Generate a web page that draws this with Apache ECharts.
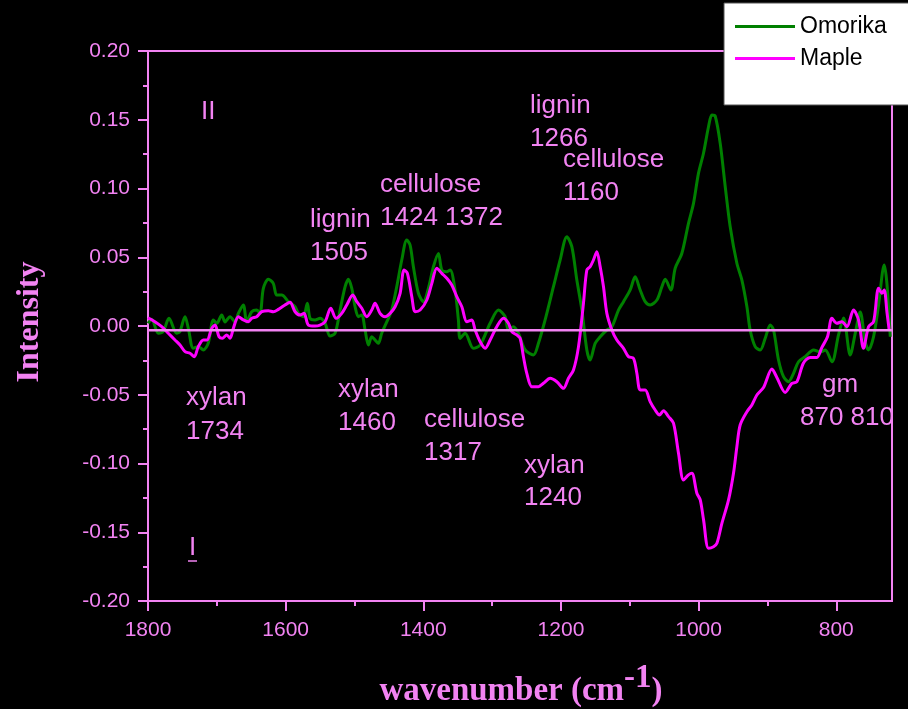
<!DOCTYPE html>
<html>
<head>
<meta charset="utf-8">
<script src="https://cdn.jsdelivr.net/npm/echarts@6/dist/echarts.min.js"></script>
<style>
  html, body { margin: 0; padding: 0; background: #000; }
  #chart { width: 908px; height: 709px; }
</style>
</head>
<body>
<div id="chart"></div>
<script>
// Difference spectra, wavenumber in cm-1 (descending) and intensity
const omorikaWavenumber = [
  1800, 1794.6, 1785, 1777.8, 1769.5, 1758.3, 1753.6, 1746.2, 1741.4, 1734.2,
  1727, 1719.6, 1712.5, 1705, 1700, 1692.9, 1688, 1680.8, 1673.5, 1668.7,
  1661.5, 1656.5, 1649.3, 1642, 1637.3, 1632.4, 1625.1, 1618, 1613, 1605.7,
  1596, 1586.3, 1581.5, 1574.3, 1568.5, 1564.5, 1557.3, 1550, 1542.7, 1535.5,
  1528.2, 1520.9, 1513.6, 1508.8, 1503.9, 1499.1, 1494.3, 1489.4, 1484.6, 1479.8,
  1474.9, 1470.1, 1465.3, 1460.4, 1453.1, 1445.9, 1438.6, 1431.3, 1424, 1419.2,
  1414.4, 1407.1, 1399.8, 1392.6, 1385.3, 1378, 1373.1, 1365.8, 1361, 1353.8,
  1349, 1346.5, 1339.3, 1327.2, 1317.4, 1302.9, 1290.8, 1281.1, 1276.3, 1269,
  1261.8, 1252, 1240, 1232.7, 1223, 1210.9, 1201.2, 1191.4, 1184.2, 1176.9,
  1169.6, 1162.4, 1157.6, 1150.3, 1143, 1133.3, 1126, 1116.4, 1109.1, 1099.4,
  1092.2, 1084.9, 1077.6, 1070.4, 1060.6, 1053.3, 1048.5, 1040.3, 1034, 1024.3,
  1014.7, 1007.4, 1000.2, 992.9, 985.6, 980.7, 975.9, 968.6, 961.3, 954.1,
  944.4, 937.1, 929.8, 925.1, 917.8, 910.5, 903.2, 895.9, 891.1, 883.9,
  876.6, 869.3, 862.1, 854.8, 845.1, 833, 823.3, 816, 806.3, 796.7,
  789.4, 779.7, 772.4, 765.2, 757.9, 753.1, 745.8, 738.5, 730.3, 726.4,
  721.5
];
const omorikaIntensity = [
  0.002, 0.005, -0.0053, -0.004, 0.0056, -0.0053, -0.004, 0.0068, -0.0017, -0.0162,
  -0.015, -0.0174, -0.0126, 0.0044, 0.002, 0.008, 0.003, 0.0068, 0.003, 0.0092,
  0.0153, 0.003, 0.0104, 0.0116, 0.0092, 0.0274, 0.034, 0.031, 0.0225, 0.0225,
  0.0177, 0.014, 0.0092, 0.0068, 0.0165, 0.0056, 0.0044, 0.0056, 0.002, -0.0073,
  -0.0053, 0.0116, 0.0286, 0.034, 0.0274, 0.014, 0.0068, 0.008, -0.0029, -0.0138,
  -0.0078, -0.0102, -0.0126, -0.0053, 0.003, 0.0116, 0.0286, 0.048, 0.0625, 0.0589,
  0.0431, 0.0238, 0.0177, 0.0274, 0.0431, 0.0528, 0.0407, 0.0395, 0.0407, 0.026,
  0.0044, -0.009, -0.0053, -0.0162, -0.0138, 0.002, 0.0116, 0.0068, -0.0029, -0.0005,
  -0.0053, -0.0174, -0.0211, -0.0126, 0.0044, 0.0286, 0.048, 0.0649, 0.0577, 0.0334,
  0.0116, -0.0174, -0.0247, -0.0126, -0.0078, -0.0029, -0.0005, 0.0116, 0.0177, 0.0262,
  0.0358, 0.0262, 0.0177, 0.0153, 0.0189, 0.0286, 0.034, 0.0262, 0.042, 0.0529,
  0.0747, 0.0892, 0.111, 0.1256, 0.1449, 0.1534, 0.1527, 0.1328, 0.1013, 0.0722,
  0.0456, 0.0334, 0.014, -0.0029, -0.015, -0.0174, -0.0089, 0.0007, -0.0029, -0.0247,
  -0.0369, -0.0405, -0.0344, -0.026, -0.0223, -0.0174, -0.019, -0.0174, -0.026, -0.0065,
  0.0058, -0.0211, -0.0053, 0.0102, -0.0116, -0.0174, -0.0078, 0.0153, 0.0444, 0.031,
  -0.0078
];

const mapleWavenumber = [
  1800, 1790, 1780.1, 1770.5, 1760.8, 1753.5, 1746.2, 1739, 1732.7, 1726.9,
  1719.6, 1714.3, 1707.4, 1702.6, 1696.8, 1692, 1685.6, 1680.8, 1676, 1668.7,
  1661.5, 1654.2, 1649.3, 1642, 1634.7, 1625.1, 1617.9, 1610.6, 1600.9, 1593.6,
  1586.3, 1579.1, 1573.3, 1567, 1557.3, 1550, 1542.7, 1534.5, 1526.7, 1518.5,
  1511.2, 1502.5, 1496.6, 1489.4, 1482.1, 1474.9, 1470.1, 1462.8, 1455.5, 1448.3,
  1441, 1433.7, 1427.9, 1423.1, 1416.7, 1411.9, 1404.6, 1394.9, 1387.6, 1380.4,
  1373.1, 1365.8, 1358.6, 1351.3, 1344, 1336.8, 1329.5, 1324.7, 1317.4, 1310.2,
  1302.9, 1293.2, 1283.6, 1276.3, 1271.4, 1264.1, 1259.3, 1254.5, 1249.6, 1242.3,
  1232.7, 1225.5, 1215.7, 1206, 1196.4, 1189.1, 1181.8, 1174.5, 1167.3, 1162.4,
  1157.6, 1152.8, 1147.9, 1143, 1138.2, 1133.3, 1126, 1118.8, 1109.1, 1101.9,
  1094.6, 1089.7, 1084.9, 1077.6, 1070.4, 1063.1, 1056.8, 1051, 1043.7, 1036.5,
  1029.2, 1021.9, 1014.7, 1009.7, 1002.5, 997.6, 992.8, 985.6, 978.3, 973.4,
  966.1, 956.5, 949.3, 944.4, 939.6, 929.8, 922.6, 915.3, 905.7, 893.5,
  886.3, 874.2, 864.5, 857.2, 847.6, 837.9, 828.2, 820.9, 812.7, 806.3,
  799.1, 791.8, 784.5, 774.9, 767.6, 760.4, 753.1, 745.8, 738.5, 733.6,
  730.3, 726.4, 723.1
];
const mapleIntensity = [
  0.006, 0.0031, -0.0005, -0.0053, -0.0102, -0.0138, -0.0187, -0.0198, -0.0223, -0.015,
  -0.0102, -0.0102, -0.0017, 0.0007, -0.0078, -0.0089, -0.0065, -0.0089, -0.0017, 0.0068,
  0.0044, 0.0031, 0.0056, 0.0068, 0.0104, 0.0111, 0.0104, 0.0121, 0.0153, 0.0172,
  0.0104, 0.008, 0.0092, 0.0007, 0, 0.0007, 0.0031, 0.0129, 0.0056, 0.0092,
  0.0153, 0.0225, 0.0177, 0.0129, 0.0068, 0.0116, 0.0165, 0.0092, 0.0068, 0.0092,
  0.014, 0.0238, 0.0407, 0.0383, 0.0213, 0.0104, 0.0116, 0.0189, 0.031, 0.042,
  0.0383, 0.0347, 0.0298, 0.0213, 0.014, 0.0031, 0.0044, -0.0029, -0.0114, -0.0162,
  -0.0102, -0.0005, 0.0056, 0.002, -0.0041, -0.0065, -0.0089, -0.0223, -0.0344, -0.0441,
  -0.0441, -0.0417, -0.038, -0.0405, -0.0453, -0.038, -0.032, -0.015, 0.0165, 0.0407,
  0.0431, 0.048, 0.054, 0.0431, 0.0286, 0.0092, -0.0029, -0.0102, -0.0162, -0.0223,
  -0.0235, -0.0344, -0.0465, -0.0465, -0.055, -0.0611, -0.0647, -0.0616, -0.0659, -0.0707,
  -0.0925, -0.112, -0.1083, -0.1071, -0.1216, -0.1265, -0.141, -0.1616, -0.1605, -0.158,
  -0.1434, -0.1265, -0.1071, -0.0878, -0.072, -0.0623, -0.0574, -0.0502, -0.0447, -0.0313,
  -0.0374, -0.0483, -0.0417, -0.0405, -0.0269, -0.0229, -0.0229, -0.0156, -0.0078, 0.0056,
  0.002, 0.0031, -0.0005, 0.0116, 0.0044, -0.0162, -0.0005, 0.0031, 0.0274, 0.0238,
  0.0262, 0.0104, -0.0029
];

const baselineLevel = -0.003;
const xMajorTicks = [1800, 1600, 1400, 1200, 1000, 800];
const xMinorTicks = [1700, 1500, 1300, 1100, 900];

// band assignments written on the plot: text, left x, middle y
const bandNotes = [
  ['II', 201, 112],
  ['lignin', 530, 106], ['1266', 530, 139],
  ['cellulose', 563, 160], ['1160', 563, 193],
  ['cellulose', 380, 185], ['1424 1372', 380, 218],
  ['lignin', 310, 220], ['1505', 310, 253],
  ['xylan', 186, 398], ['1734', 186, 432],
  ['xylan', 338, 390], ['1460', 338, 423],
  ['cellulose', 424, 420], ['1317', 424, 453],
  ['xylan', 524, 466], ['1240', 524, 498],
  ['gm', 822, 385], ['870 810', 800, 418],
  ['I', 189, 548]
];

const VIOLET = '#f283f2';
const SANS = 'Arial, "Liberation Sans", sans-serif';
const SERIF = '"Times New Roman", "Liberation Serif", serif';

const zip = (xs, ys) => xs.map((x, i) => [x, ys[i]]);

const graphics = bandNotes.map(([t, x, y]) => ({
  type: 'text', x: x, y: y, silent: true,
  style: { text: t, fill: VIOLET, font: '26px ' + SANS, verticalAlign: 'middle', align: 'left' }
}));
// underline for the "I" mark
graphics.push({
  type: 'line', silent: true,
  shape: { x1: 188, y1: 561, x2: 197, y2: 561 },
  style: { stroke: VIOLET, lineWidth: 1.5 }
});
// axis titles
graphics.push({
  type: 'text', x: 30, y: 322, rotation: Math.PI / 2, silent: true,
  style: { text: 'Intensity', fill: VIOLET, font: 'bold 32px ' + SERIF, align: 'center', verticalAlign: 'middle' }
});
graphics.push({
  type: 'text', x: 521, y: 708, silent: true,
  style: {
    text: '{m|wavenumber (cm}{s|-1}{m|)}',
    align: 'center', verticalAlign: 'bottom',
    rich: {
      m: { fill: VIOLET, fontFamily: SERIF, fontWeight: 'bold', fontSize: 33, lineHeight: 46, verticalAlign: 'bottom' },
      s: { fill: VIOLET, fontFamily: SERIF, fontWeight: 'bold', fontSize: 33, lineHeight: 32, verticalAlign: 'top' }
    }
  }
});

const chart = echarts.init(document.getElementById('chart'), null, { renderer: 'canvas' });
chart.setOption({
  backgroundColor: '#000',
  animation: false,
  grid: {
    left: 148, right: 16, top: 51, bottom: 108,
    show: true, borderColor: VIOLET, borderWidth: 2, backgroundColor: 'transparent'
  },
  legend: {
    data: ['Omorika', 'Maple'],
    orient: 'vertical',
    left: 724, top: 3,
    padding: [12, 60, 35, 11],
    icon: 'rect',
    itemWidth: 60, itemHeight: 3, itemGap: 9,
    backgroundColor: '#fff', borderColor: '#555', borderWidth: 1,
    textStyle: { color: '#000', fontSize: 23, fontFamily: SANS }
  },
  xAxis: [
    {
      type: 'value', inverse: true, min: 719, max: 1800, position: 'bottom',
      axisLine: { show: true, onZero: false, lineStyle: { color: VIOLET, width: 2 } },
      axisTick: { show: true, customValues: xMajorTicks, length: 10, lineStyle: { color: VIOLET, width: 2 } },
      axisLabel: { customValues: xMajorTicks, color: VIOLET, fontSize: 21, fontFamily: SANS, margin: 19,
                   formatter: v => String(v) },
      splitLine: { show: false }
    },
    {
      type: 'value', inverse: true, min: 719, max: 1800, position: 'bottom', offset: 0,
      axisLine: { show: false, onZero: false },
      axisTick: { show: true, customValues: xMinorTicks, length: 5, lineStyle: { color: VIOLET, width: 2 } },
      axisLabel: { show: false },
      splitLine: { show: false }
    }
  ],
  yAxis: {
    type: 'value', min: -0.2, max: 0.2, interval: 0.05,
    axisLine: { show: true, onZero: false, lineStyle: { color: VIOLET, width: 2 } },
    axisTick: { show: true, length: 10, lineStyle: { color: VIOLET, width: 2 } },
    minorTick: { show: true, splitNumber: 2, length: 5, lineStyle: { color: VIOLET, width: 2 } },
    axisLabel: { color: VIOLET, fontSize: 21, fontFamily: SANS, margin: 18, formatter: v => v.toFixed(2) },
    splitLine: { show: false }
  },
  series: [
    {
      name: 'Omorika', type: 'line', xAxisIndex: 0,
      data: zip(omorikaWavenumber, omorikaIntensity),
      symbol: 'none', smooth: 0.3,
      lineStyle: { color: '#008000', width: 3 }, itemStyle: { color: '#008000' }
    },
    {
      name: 'Maple', type: 'line', xAxisIndex: 0,
      data: zip(mapleWavenumber, mapleIntensity),
      symbol: 'none', smooth: 0.3,
      lineStyle: { color: '#ff00ff', width: 3 }, itemStyle: { color: '#ff00ff' }
    },
    {
      name: 'baseline', type: 'line', xAxisIndex: 0, z: 5,
      data: [[1800, baselineLevel], [719, baselineLevel]],
      symbol: 'none', silent: true,
      lineStyle: { color: VIOLET, width: 2.5 }
    }
  ],
  graphic: graphics
});
</script>
</body>
</html>
